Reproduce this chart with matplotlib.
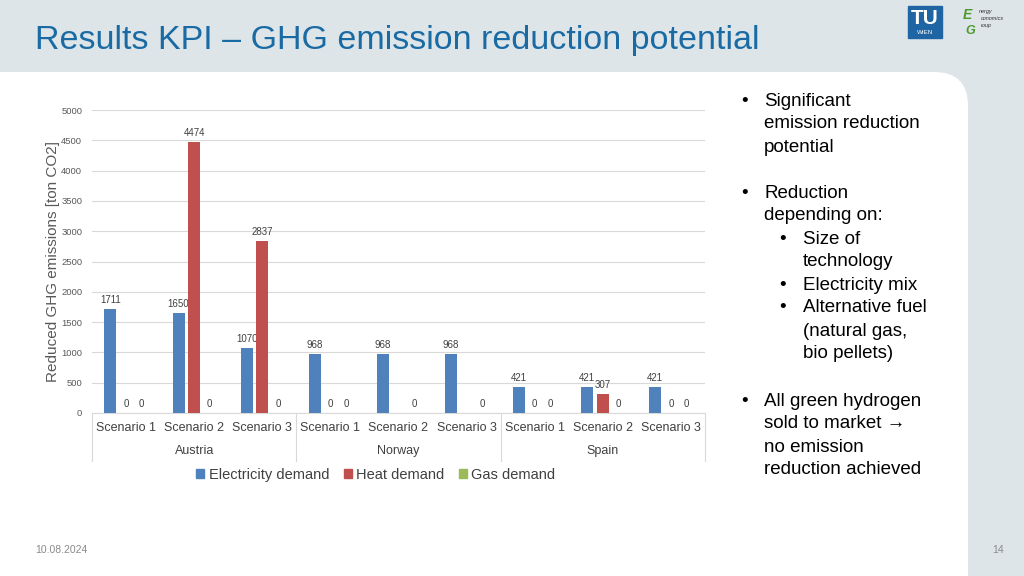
import matplotlib
matplotlib.use("Agg")
import matplotlib.pyplot as plt
from matplotlib.patches import Rectangle, FancyBboxPatch
import numpy as np

plt.rcParams['font.family'] = ['Liberation Sans', 'DejaVu Sans']

# ---- data ----
scenarios = ["Scenario 1", "Scenario 2", "Scenario 3"] * 3
countries = ["Austria", "Norway", "Spain"]
series_names = ["Electricity demand", "Heat demand", "Gas demand"]
electricity = [1711, 1650, 1070, 968, 968, 968, 421, 421, 421]
heat = [0, 4474, 2837, 0, None, None, 0, 307, 0]
gas = [0, 0, 0, 0, 0, 0, 0, 0, 0]
y_ticks = [0, 500, 1000, 1500, 2000, 2500, 3000, 3500, 4000, 4500, 5000]

title = "Results KPI \u2013 GHG emission reduction potential"
ylabel = "Reduced GHG emissions [ton CO2]"
date_text = "10.08.2024"
page_text = "14"

colors = ["#4F81BD", "#C0504D", "#9BBB59"]
W, H = 1024, 576
fig = plt.figure(figsize=(W / 100, H / 100), dpi=100)

# ---- background (pixel coordinate axes) ----
bg = fig.add_axes([0, 0, 1, 1])
bg.set_xlim(0, W)
bg.set_ylim(H, 0)
bg.axis("off")
gray = "#dde5e9"
bg.add_patch(Rectangle((0, 0), W, H, color=gray, zorder=0))
bg.add_patch(FancyBboxPatch((-100, 72), 968 + 100, H + 100,
                            boxstyle="round,pad=0,rounding_size=34",
                            fc="white", ec="none", zorder=1))
bg.text(35, 41, title, fontsize=24.5, color="#1a6aa3", va="center", ha="left", zorder=3)
bg.text(35, 550, date_text, fontsize=7.5, color="#8a8a8a", va="center", ha="left", zorder=3)
bg.text(998, 550, page_text, fontsize=7.5, color="#8a8a8a", va="center", ha="center", zorder=3)

# logos (approximations)
bg.add_patch(Rectangle((908, 6), 34, 32, color="#1f64a3", zorder=3))
bg.text(925, 18, "TU", fontsize=15, fontweight="bold", color="white", ha="center", va="center", zorder=4)
bg.text(925, 33, "WIEN", fontsize=4.5, color="white", ha="center", va="center", zorder=4)
bg.text(967, 15, "E", fontsize=10, fontstyle="italic", fontweight="bold", color="#4a9a2a", ha="center", va="center", zorder=4)
bg.text(970, 31, "G", fontsize=9, fontstyle="italic", fontweight="bold", color="#4a9a2a", ha="center", va="center", zorder=4)
bg.text(979, 11, "nergy", fontsize=4, fontstyle="italic", color="#333333", ha="left", va="center", zorder=4)
bg.text(981, 18, "conomics", fontsize=4, fontstyle="italic", color="#333333", ha="left", va="center", zorder=4)
bg.text(981, 25, "roup", fontsize=4, fontstyle="italic", color="#333333", ha="left", va="center", zorder=4)

# right-hand bullet text
fs = 13.5
lines = [
    (101, 0, True, "Significant"),
    (124, 0, False, "emission reduction"),
    (147, 0, False, "potential"),
    (193, 0, True, "Reduction"),
    (216, 0, False, "depending on:"),
    (239, 1, True, "Size of"),
    (262, 1, False, "technology"),
    (285, 1, True, "Electricity mix"),
    (308, 1, True, "Alternative fuel"),
    (331, 1, False, "(natural gas,"),
    (354, 1, False, "bio pellets)"),
    (401, 0, True, "All green hydrogen"),
    (424, 0, False, "sold to market \u2192"),
    (447, 0, False, "no emission"),
    (470, 0, False, "reduction achieved"),
]
for y, lvl, bullet, txt in lines:
    xb = 745 + 38 * lvl
    xt = 764 + 39 * lvl
    if bullet:
        bg.text(xb, y, "\u2022", fontsize=fs, color="black", ha="center", va="center", zorder=3)
    bg.text(xt, y, txt, fontsize=fs, color="black", ha="left", va="center", zorder=3)

# ---- chart ----
left, right, top, bottom = 92, 705, 110, 413
ax = fig.add_axes([left / W, 1 - bottom / H, (right - left) / W, (bottom - top) / H])
ax.set_zorder(5)
ax.patch.set_alpha(0)
n = len(electricity)
x = np.arange(n)
bw = 0.176
off = 0.229
label_color = "#404040"
for i, (vals, c) in enumerate(zip([electricity, heat, gas], colors)):
    xs = x + (i - 1) * off
    for xi, v in zip(xs, vals):
        if v is None:
            continue
        ax.bar(xi, v, width=bw, color=c, zorder=3)
        ax.annotate(f"{v}", (xi, v), xytext=(0, 3), textcoords="offset points",
                    ha="center", va="bottom", fontsize=7, color=label_color)

ax.set_xlim(-0.5, n - 0.5)
ax.set_ylim(0, 5000)
ax.set_yticks(y_ticks)
ax.set_yticklabels([str(t) for t in y_ticks], fontsize=6.8, color="#595959")
ax.tick_params(axis="y", length=0, pad=7)
ax.tick_params(axis="x", length=0, labelbottom=False)
ax.grid(axis="y", color="#d9d9d9", lw=0.8, zorder=0)
for s in ["left", "right", "top"]:
    ax.spines[s].set_visible(False)
ax.spines["bottom"].set_color("#d9d9d9")
ax.spines["bottom"].set_linewidth(0.8)
ax.set_ylabel(ylabel, fontsize=11, color="#595959")
ax.yaxis.set_label_coords(-0.053, 0.5)

trans = ax.get_xaxis_transform()
px = 1.0 / (bottom - top)
for xi, s in zip(x, scenarios):
    ax.text(xi, -15 * px, s, transform=trans, ha="center", va="center",
            fontsize=9, color="#404040", clip_on=False)
for gi, c in enumerate(countries):
    ax.text(gi * 3 + 1, -38 * px, c, transform=trans, ha="center", va="center",
            fontsize=9, color="#404040", clip_on=False)
for b in [-0.5, 2.5, 5.5, 8.5]:
    ax.plot([b, b], [0, -48 * px], transform=trans, color="#d9d9d9", lw=0.8, clip_on=False)

handles = [Rectangle((0, 0), 1, 1, color=c) for c in colors]
fig.legend(handles, series_names, loc="center", bbox_to_anchor=(376 / W, 1 - 475 / H),
           ncol=3, frameon=False, fontsize=10.5, handlelength=0.55, handleheight=0.55,
           handletextpad=0.3, columnspacing=1.0, labelcolor="#404040")

fig.savefig("out.png", dpi=100)
